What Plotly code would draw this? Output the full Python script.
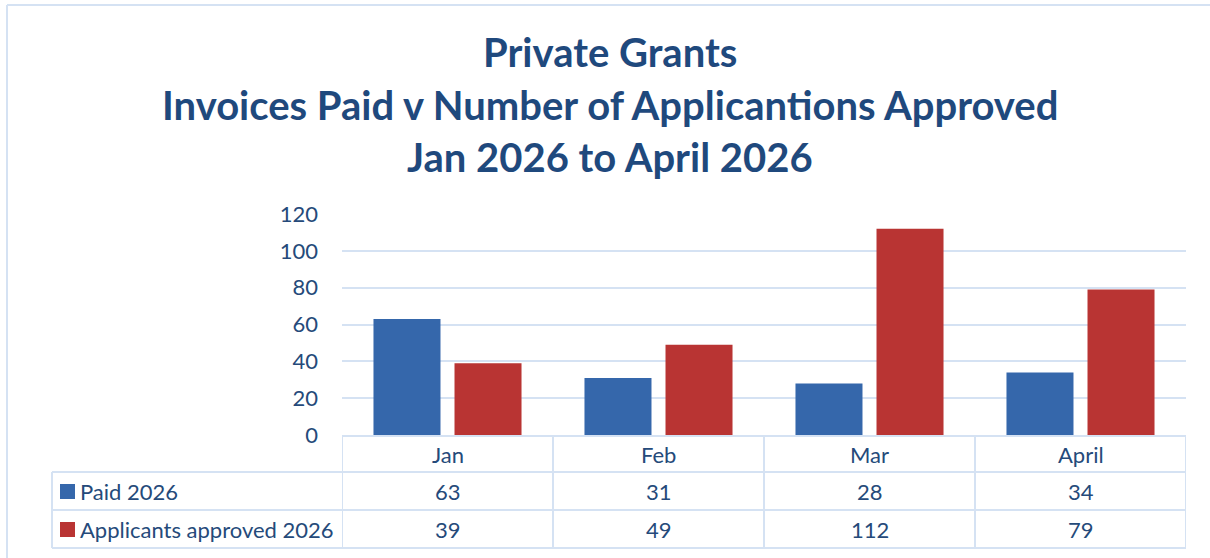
import plotly.graph_objects as go

# data
categories = ["Jan", "Feb", "Mar", "April"]
paid_2026 = [63, 31, 28, 34]
approved_2026 = [39, 49, 112, 79]
series_names = ["Paid 2026", "Applicants approved 2026"]
title_lines = ["Private Grants",
               "Invoices Paid v Number of Applicantions Approved",
               "Jan 2026 to April 2026"]

W, H = 1210, 558
L, R, T, B = 342, 24, 214, 123
PW, PH = W - L - R, H - T - B

BLUE = "#3567AB"
RED = "#B93433"
TXT = "#254A7A"
TITLE = "#1F497D"
LINE = "#D5E2F3"
FONT = "Lato"


def px(x):
    # pixel x -> paper x
    return (x - L) / PW


def py(y):
    # pixel y -> paper y
    return (H - B - y) / PH


def label(x, y, text, xref="paper", size=22, color=TXT, xanchor="center", **kw):
    return dict(xref=xref, yref="paper", x=x, y=y, text=text, showarrow=False,
                xanchor=xanchor, yanchor="middle",
                font=dict(family=FONT, size=size, color=color, **kw))


fig = go.Figure()
fig.add_trace(go.Bar(x=list(range(len(categories))), y=paid_2026, name=series_names[0],
                     marker=dict(color=BLUE, line=dict(width=0))))
fig.add_trace(go.Bar(x=list(range(len(categories))), y=approved_2026, name=series_names[1],
                     marker=dict(color=RED, line=dict(width=0))))

shapes = []
annotations = []

# outer chart border (top + left)
shapes.append(dict(type="line", xref="paper", yref="paper", x0=px(7), x1=px(1215), y0=py(5), y1=py(5),
                   line=dict(color=LINE, width=2)))
shapes.append(dict(type="line", xref="paper", yref="paper", x0=px(7), x1=px(7), y0=py(5), y1=py(565),
                   line=dict(color=LINE, width=2)))

# data table grid
row_y = [436, 472, 510, 548]
shapes.append(dict(type="line", xref="paper", yref="paper", x0=0, x1=1, y0=py(row_y[0]), y1=py(row_y[0]),
                   line=dict(color=LINE, width=2)))
for yy in row_y[1:]:
    shapes.append(dict(type="line", xref="paper", yref="paper", x0=px(52), x1=1, y0=py(yy), y1=py(yy),
                       line=dict(color=LINE, width=2)))
shapes.append(dict(type="line", xref="paper", yref="paper", x0=px(52), x1=px(52),
                   y0=py(row_y[1]), y1=py(row_y[3]), line=dict(color=LINE, width=2)))
for i in range(len(categories) + 1):
    shapes.append(dict(type="line", xref="x", yref="paper", x0=i - 0.5, x1=i - 0.5,
                       y0=py(row_y[0]), y1=py(row_y[3]), line=dict(color=LINE, width=2)))

# table text
row_centres = [454, 491, 529]
for i, c in enumerate(categories):
    annotations.append(label(i, py(row_centres[0]), c, xref="x"))
    annotations.append(label(i, py(row_centres[1]), str(paid_2026[i]), xref="x"))
    annotations.append(label(i, py(row_centres[2]), str(approved_2026[i]), xref="x"))

# legend keys in table
for k, (name, col) in enumerate(zip(series_names, [BLUE, RED])):
    yc = row_centres[k + 1]
    shapes.append(dict(type="rect", xref="paper", yref="paper", x0=px(60), x1=px(75),
                       y0=py(yc - 7), y1=py(yc + 8), fillcolor=col, line=dict(width=0)))
    annotations.append(label(px(78), py(yc), name, xanchor="left"))

# title
for yy, line in zip([52, 105, 157], title_lines):
    annotations.append(label(px(610), py(yy), line, size=40, color=TITLE, weight="bold"))

fig.update_layout(
    width=W, height=H,
    margin=dict(l=L, r=R, t=T, b=B, pad=0),
    paper_bgcolor="white", plot_bgcolor="white",
    showlegend=False,
    barmode="group", bargap=0.232, bargroupgap=0.173,
    font=dict(family=FONT, size=22, color=TXT),
    xaxis=dict(range=[-0.5, len(categories) - 0.5], showticklabels=False, showgrid=False,
               zeroline=False, showline=False, fixedrange=True),
    yaxis=dict(range=[0, 120], dtick=20, showgrid=True, gridcolor=LINE, gridwidth=2,
               zeroline=False, showline=False, ticks="", ticklabelstandoff=23,
               tickfont=dict(family=FONT, size=22, color=TXT)),
    shapes=shapes,
    annotations=annotations,
)

# drop the browser's default body margin so the figure sits at the page origin
fig.write_html("out.html", config={"displayModeBar": False},
               post_script="document.body.style.margin='0';")
